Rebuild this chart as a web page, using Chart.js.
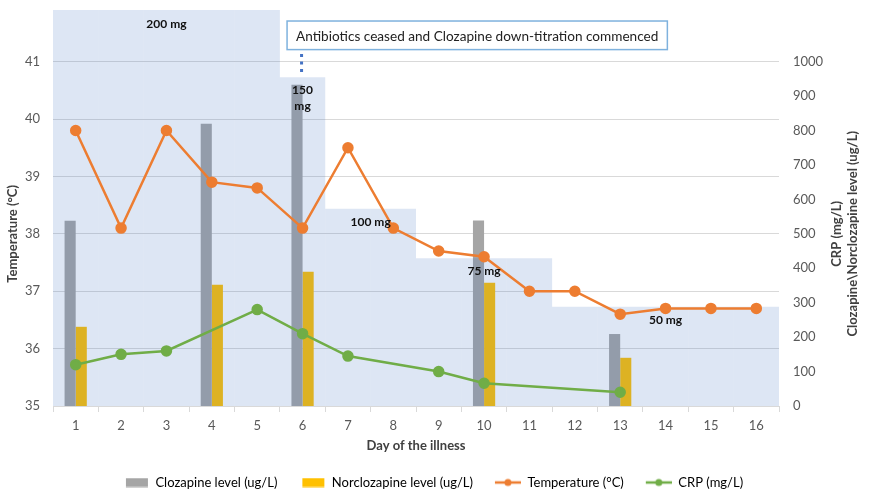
<!DOCTYPE html>
<html>
<head>
<meta charset="utf-8">
<script src="https://cdn.jsdelivr.net/npm/chart.js@4.4.1/dist/chart.umd.min.js"></script>
<style>
  html, body { margin: 0; background: #fff; }
  #wrap { width: 870px; height: 492px; }
</style>
</head>
<body>
<div id="wrap"><canvas id="chart"></canvas></div>
<script>
const days = ['1', '2', '3', '4', '5', '6', '7', '8', '9', '10', '11', '12', '13', '14', '15', '16'];
const clozapineLevel = [538, null, null, 820, null, 933, null, null, null, 539, null, null, 209, null, null, null];
const norclozapineLevel = [230, null, null, 352, null, 390, null, null, null, 358, null, null, 140, null, null, null];
const temperature = [39.8, 38.1, 39.8, 38.9, 38.8, 38.1, 39.5, 38.1, 37.7, 37.6, 37.0, 37.0, 36.6, 36.7, 36.7, 36.7];
const crp = [120, 150, 160, null, 280, 210, 145, null, 100, 66, null, null, 40, null, null, null];
// clozapine dose band, drawn as the blue steps behind the data (height read on the right axis)
const doseShade = [1150, 1150, 1150, 1150, 1150, 955, 573, 573, 429, 429, 429, 288, 288, 288, 288, 288];
const tempTicks = [35, 36, 37, 38, 39, 40, 41];
const levelTicks = [0, 100, 200, 300, 400, 500, 600, 700, 800, 900, 1000];
const note = 'Antibiotics ceased and Clozapine down-titration commenced';

Chart.defaults.font.family = 'Lato';
Chart.defaults.color = '#595959';

// dose label anchors: [category index, right-axis value, text lines]
const doseTags = [
    [2, 1110, ['200 mg']],
    [5, 895, ['150', 'mg']],
    [6.5, 535, ['100 mg']],
    [9, 393, ['75 mg']],
    [13, 248, ['50 mg']]
];

// legend icons carry their own left gap, since legend padding also sets its height
function legendIcon(color, kind) {
    const c = document.createElement('canvas');
    c.width = 46; c.height = 10;
    const g = c.getContext('2d');
    g.fillStyle = color; g.strokeStyle = color;
    if (kind === 'bar') {
        g.fillRect(23, 0.5, 22, 9);
    } else {
        g.lineWidth = 2.5;
        g.beginPath(); g.moveTo(20, 5); g.lineTo(46, 5); g.stroke();
        g.beginPath(); g.arc(33, 5, 3.5, 0, Math.PI * 2); g.fill();
    }
    return c;
}

const extras = {
    id: 'extras',
    afterDatasetsDraw(chart) {
        const { ctx, scales: { x, y, y1 } } = chart;
        ctx.save();

        // dose labels
        ctx.font = 'bold 12px Lato';
        ctx.fillStyle = '#111';
        ctx.textAlign = 'center';
        ctx.textBaseline = 'middle';
        doseTags.forEach(([i, v, lines]) => {
            const px = x.getPixelForValue(0) + i * (x.getPixelForValue(1) - x.getPixelForValue(0));
            const py = y1.getPixelForValue(v);
            lines.forEach((t, k) => ctx.fillText(t, px, py + (k - (lines.length - 1) / 2) * 16));
        });

        // note box and dotted pointer to day 6
        const ax = x.getPixelForValue(5);
        ctx.font = '13.6px Lato';
        const tw = ctx.measureText(note).width;
        const bx = ax - 15.5, by = y1.getPixelForValue(1118), bh = y1.getPixelForValue(1035) - by;
        ctx.fillStyle = '#fff';
        ctx.fillRect(bx, by, tw + 18, bh);
        ctx.strokeStyle = '#7fb2de';
        ctx.lineWidth = 1.5;
        ctx.strokeRect(bx, by, tw + 18, bh);
        ctx.fillStyle = '#222';
        ctx.textAlign = 'left';
        ctx.fillText(note, bx + 9, by + bh / 2 + 1);

        ctx.strokeStyle = '#4472c4';
        ctx.lineWidth = 3;
        ctx.setLineDash([3, 4.5]);
        ctx.beginPath();
        ctx.moveTo(ax - 1, y1.getPixelForValue(1022));
        ctx.lineTo(ax - 1, y1.getPixelForValue(968));
        ctx.stroke();
        ctx.setLineDash([]);

        // axis titles (both read bottom to top)
        ctx.font = 'bold 13px Lato';
        ctx.fillStyle = '#404040';
        ctx.textAlign = 'center';
        const mid = y.getPixelForValue(38);
        [[13, 'Temperature (°C)'], [837, 'CRP (mg/L)'], [853, 'Clozapine\\Norclozapine level (ug/L)']].forEach(([tx, t]) => {
            ctx.save();
            ctx.translate(tx, mid);
            ctx.rotate(-Math.PI / 2);
            ctx.fillText(t, 0, 0);
            ctx.restore();
        });
        ctx.restore();
    }
};

function noPad(s) { s.paddingTop = 0; s.paddingBottom = 0; }

new Chart(document.getElementById('chart'), {
    data: {
        labels: days,
        datasets: [
            { type: 'bar', label: 'Clozapine level (ug/L)', data: clozapineLevel, yAxisID: 'y1',
              backgroundColor: '#a5a5a5', barPercentage: 1, categoryPercentage: 0.49, order: 3 },
            { type: 'bar', label: 'Norclozapine level (ug/L)', data: norclozapineLevel, yAxisID: 'y1',
              backgroundColor: '#ffc000', barPercentage: 1, categoryPercentage: 0.49, order: 3 },
            { type: 'line', label: 'Temperature (°C)', data: temperature, yAxisID: 'y',
              borderColor: '#ed7d31', backgroundColor: '#ed7d31', borderWidth: 2.5,
              pointRadius: 4.5, pointHoverRadius: 4.5, tension: 0, order: 0 },
            { type: 'line', label: 'CRP (mg/L)', data: crp, yAxisID: 'y1', spanGaps: true,
              borderColor: '#70ad47', backgroundColor: '#70ad47', borderWidth: 2.5,
              pointRadius: 4.5, pointHoverRadius: 4.5, tension: 0, order: 1 },
            { type: 'bar', label: '', data: doseShade, yAxisID: 'y1', grouped: false, inflateAmount: 0,
              backgroundColor: 'rgba(68,114,196,0.18)', barPercentage: 1, categoryPercentage: 1, order: 2 }
        ]
    },
    options: {
        responsive: true,
        maintainAspectRatio: false,
        animation: false,
        // negative left padding shifts the legend centre; the left axis width makes up for it
        layout: { padding: { top: 10, bottom: 0, left: -24, right: 0 } },
        plugins: {
            tooltip: { enabled: false },
            legend: {
                position: 'bottom',
                maxHeight: 18,
                labels: {
                    usePointStyle: true, pointStyleWidth: 46, boxHeight: 10, padding: 2,
                    font: { size: 13 }, color: '#595959',
                    generateLabels: chart => chart.data.datasets
                        .map((ds, i) => ({
                            text: ds.label, datasetIndex: i, hidden: false, lineWidth: 0,
                            fillStyle: ds.backgroundColor, strokeStyle: ds.backgroundColor,
                            pointStyle: legendIcon(ds.type === 'line' ? ds.borderColor : ds.backgroundColor, ds.type)
                        }))
                        .filter(l => l.text)
                }
            }
        },
        scales: {
            x: {
                afterFit: s => { s.height = 68; },
                grid: { offset: true, drawOnChartArea: false, tickLength: 6, color: '#d9d9d9' },
                border: { color: '#d9d9d9' },
                ticks: { font: { size: 13 }, padding: 6 },
                title: { display: true, text: 'Day of the illness', color: '#404040',
                         font: { size: 13, weight: 'bold' }, padding: { top: 5, bottom: 20 } }
            },
            y: {
                position: 'left',
                min: 35, max: 41.9,
                afterBuildTicks: s => { s.ticks = tempTicks.map(v => ({ value: v })); },
                afterFit: s => { s.width = 77; noPad(s); },
                grid: { color: '#d9d9d9', drawTicks: false },
                border: { display: false },
                ticks: { font: { size: 13 }, padding: 13 }
            },
            y1: {
                position: 'right',
                min: 0, max: 1150,
                afterBuildTicks: s => { s.ticks = levelTicks.map(v => ({ value: v })); },
                afterFit: s => { s.width = 91; noPad(s); },
                grid: { display: false, drawTicks: false },
                border: { display: false },
                ticks: { font: { size: 13 }, padding: 14, callback: v => String(v) }
            }
        }
    },
    plugins: [extras]
});
</script>
</body>
</html>
